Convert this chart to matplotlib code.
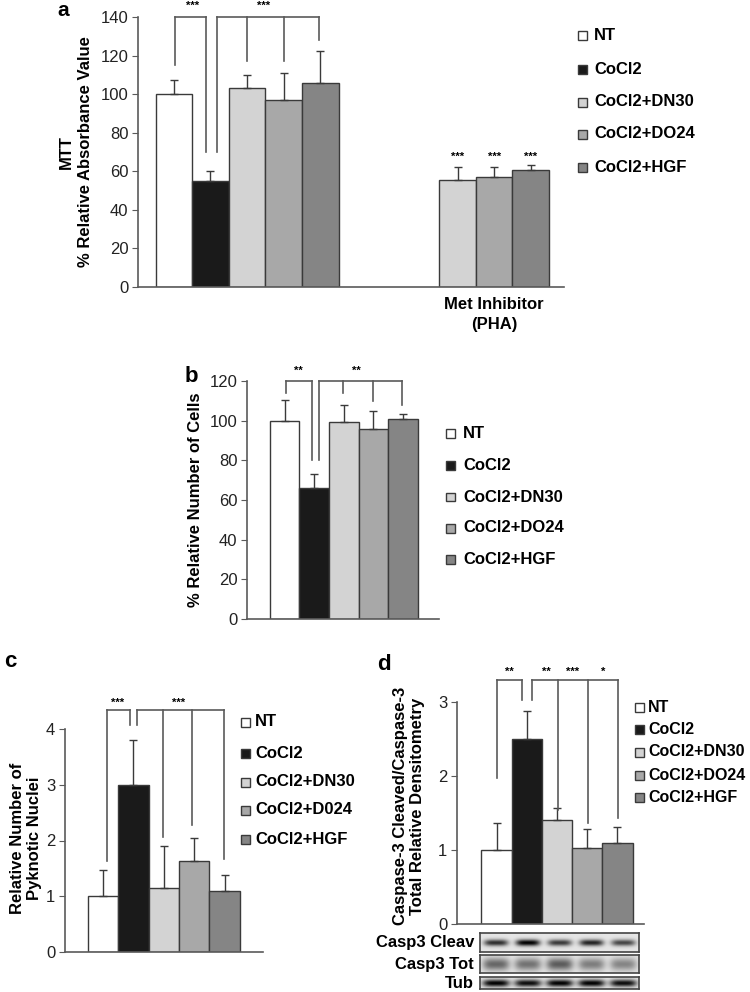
import numpy as np
import matplotlib
matplotlib.use('Agg')
import matplotlib.pyplot as plt
from matplotlib.patches import Rectangle

plt.rcParams['font.family'] = ['Liberation Sans', 'DejaVu Sans']
plt.rcParams['font.weight'] = 'bold'

W, H = 750, 992

# groups / colours
groups = ['NT', 'CoCl2', 'CoCl2+DN30', 'CoCl2+DO24', 'CoCl2+HGF']
groups_c = ['NT', 'CoCl2', 'CoCl2+DN30', 'CoCl2+D024', 'CoCl2+HGF']
colors = ['#ffffff', '#1a1a1a', '#d3d3d3', '#a8a8a8', '#858585']

# panel a - MTT
a_vals = [100, 55, 103, 97, 106]
a_err = [7.5, 5, 7, 14, 16.5]
a_pha_vals = [55.5, 57, 60.7]
a_pha_err = [6.8, 5, 2.4]

# panel b - number of cells
b_vals = [100, 66, 99.5, 96, 101]
b_err = [10.5, 7, 8.5, 9, 2.2]

# panel c - pyknotic nuclei
c_vals = [1.0, 3.0, 1.15, 1.64, 1.1]
c_err = [0.47, 0.8, 0.75, 0.41, 0.29]

# panel d - caspase-3 densitometry
d_vals = [1.0, 2.5, 1.4, 1.03, 1.1]
d_err = [0.36, 0.38, 0.17, 0.25, 0.21]

# blot band strength per lane (0..1)
blot_cleav = [0.8, 1.0, 0.75, 0.85, 0.7]
blot_tot = [0.55, 0.5, 0.6, 0.45, 0.42]
blot_tub = [1.0, 0.95, 1.0, 1.0, 0.95]

GRAY = '#5a5a5a'
EDGE = '#3a3a3a'

fig = plt.figure(figsize=(W / 100, H / 100), dpi=100)


def px_axes(x0, y0, x1, y1):
    return fig.add_axes([x0 / W, 1 - y1 / H, (x1 - x0) / W, (y1 - y0) / H])


def style(ax, ymax, step):
    for s in ['top', 'right']:
        ax.spines[s].set_visible(False)
    for s in ['left', 'bottom']:
        ax.spines[s].set_color(GRAY)
        ax.spines[s].set_linewidth(1.2)
    ax.set_ylim(0, ymax)
    ax.set_yticks(np.arange(0, ymax + step / 2, step))
    ax.tick_params(axis='y', direction='out', length=4, color=GRAY,
                   labelsize=12, labelcolor='#222222', pad=3)
    ax.set_xticks([])
    for t in ax.get_yticklabels():
        t.set_fontweight('normal')


def bars(ax, xs, vals, errs, cols, capsize=3):
    ax.bar(xs, vals, width=1.0, color=cols, edgecolor=EDGE, linewidth=1.0, zorder=2)
    ax.errorbar(xs, vals, yerr=[[0] * len(errs), errs], fmt='none',
                ecolor=EDGE, elinewidth=1.0, capsize=capsize, capthick=1.0, zorder=3)


def bracket(ax, top, ticks):
    xs = [t[0] for t in ticks]
    ax.plot([min(xs), max(xs)], [top, top], color=GRAY, lw=1.2, clip_on=False, zorder=4)
    for x, low in ticks:
        ax.plot([x, x], [low, top], color=GRAY, lw=1.2, clip_on=False, zorder=4)


def stars(ax, items, y):
    for x, s in items:
        ax.text(x, y, s, ha='center', va='center', fontsize=8, clip_on=False)


def legend(xsq, xtxt, ys, labels, size=12, sq=9):
    for y, lab, c in zip(ys, labels, colors):
        fig.add_artist(Rectangle(((xsq - sq / 2) / W, 1 - (y + sq / 2) / H), sq / W, sq / H,
                                 transform=fig.transFigure, facecolor=c, edgecolor=EDGE, lw=1.0))
        fig.text(xtxt / W, 1 - y / H, lab, ha='left', va='center', fontsize=size, fontweight='bold')


def ftext(x, y, s, **kw):
    fig.text(x / W, 1 - y / H, s, **kw)


# ---------- panel a ----------
ax = px_axes(138, 17, 564, 287)
bars(ax, [0, 1, 2, 3, 4], a_vals, a_err, colors)
bars(ax, [7.75, 8.75, 9.75], a_pha_vals, a_pha_err, colors[2:])
ax.set_xlim(-0.98, 10.66)
style(ax, 140, 20)
bracket(ax, 140, [(0.03, 115), (0.87, 70)])
bracket(ax, 140, [(1.17, 70), (2.0, 117), (3.0, 117), (3.96, 128)])
stars(ax, [(0.52, '***'), (2.46, '***')], 146)
stars(ax, [(7.75, '***'), (8.75, '***'), (9.75, '***')], 67.5)
ftext(63, 16, 'a', fontsize=15, fontweight='bold', ha='center', va='baseline')
ftext(66, 152, 'MTT', rotation=90, fontsize=12, fontweight='bold', ha='center', va='center')
ftext(86, 152, '% Relative Absorbance Value', rotation=90, fontsize=12,
      fontweight='bold', ha='center', va='center')
ftext(494, 305, 'Met Inhibitor', fontsize=12, fontweight='bold', ha='center', va='center')
ftext(494, 325, '(PHA)', fontsize=12, fontweight='bold', ha='center', va='center')
legend(582, 594, [35, 69, 102, 134, 167], groups)

# ---------- panel b ----------
ax = px_axes(247, 381, 439, 619)
bars(ax, [0, 1, 2, 3, 4], b_vals, b_err, colors)
ax.set_xlim(-1.27, 5.22)
style(ax, 120, 20)
bracket(ax, 120, [(0.05, 114), (0.93, 80)])
bracket(ax, 120, [(1.17, 80), (1.98, 114), (2.99, 110), (3.97, 108)])
stars(ax, [(0.46, '**'), (2.42, '**')], 125)
ftext(191, 382, 'b', fontsize=16, fontweight='bold', ha='center', va='baseline')
ftext(196, 500, '% Relative Number of Cells', rotation=90, fontsize=12,
      fontweight='bold', ha='center', va='center')
legend(450, 463, [433, 465, 497, 528, 559], groups)

# ---------- panel c ----------
ax = px_axes(65, 729, 263, 952)
bars(ax, [0, 1, 2, 3, 4], c_vals, c_err, colors)
ax.set_xlim(-1.25, 5.26)
style(ax, 4, 1)
bracket(ax, 4.34, [(0.13, 1.63), (0.89, 4.07)])
bracket(ax, 4.34, [(1.12, 4.07), (1.97, 2.07), (2.93, 2.28), (3.98, 1.66)])
stars(ax, [(0.49, '***'), (2.47, '***')], 4.47)
ftext(10, 667, 'c', fontsize=16, fontweight='bold', ha='center', va='baseline')
ftext(26, 838, 'Relative Number of\nPyknotic Nuclei', rotation=90, fontsize=12,
      fontweight='bold', ha='center', va='center', linespacing=1.1)
legend(245, 255, [722, 753, 782, 810, 839], groups_c)

# ---------- panel d ----------
ax = px_axes(457, 702, 644, 924)
bars(ax, [0, 1, 2, 3, 4], d_vals, d_err, colors)
ax.set_xlim(-1.31, 4.88)
style(ax, 3, 1)
bracket(ax, 3.3, [(0.0, 1.97), (0.84, 3.03)])
bracket(ax, 3.3, [(1.18, 3.03), (2.04, 1.54), (3.03, 1.36), (4.02, 1.43)])
stars(ax, [(0.41, '**'), (1.64, '**'), (2.53, '***'), (3.53, '*')], 3.41)
ftext(384, 670, 'd', fontsize=16, fontweight='bold', ha='center', va='baseline')
ftext(409, 806, 'Caspase-3 Cleaved/Caspase-3\nTotal Relative Densitometry', rotation=90,
      fontsize=12, fontweight='bold', ha='center', va='center', linespacing=1.1)
legend(639, 648, [707, 729, 752, 775, 797], groups, size=11.5)


# western blot strips
def blot(y0, y1, lanes, band_h, spread, label):
    bx = px_axes(480, y0, 639, y1)
    h, w = 40, 320
    yy, xx = np.mgrid[0:h, 0:w]
    img = np.full((h, w), 0.9)
    lane_w = w / len(lanes)
    for i, s in enumerate(lanes):
        cx = (i + 0.5) * lane_w
        prof_x = np.exp(-((xx - cx) / (lane_w * spread)) ** 4)
        prof_y = np.exp(-((yy - h / 2) / (h * band_h)) ** 2)
        img -= 0.9 * s * prof_x * prof_y
    bx.imshow(np.clip(img, 0, 1), cmap='gray', vmin=0, vmax=1, aspect='auto')
    bx.set_xticks([])
    bx.set_yticks([])
    for s in bx.spines.values():
        s.set_color('#444444')
        s.set_linewidth(1.2)
    ftext(474, (y0 + y1) / 2, label, fontsize=12, fontweight='bold', ha='right', va='center')


blot(933, 952, blot_cleav, 0.17, 0.38, 'Casp3 Cleav')
blot(955, 973, blot_tot, 0.35, 0.42, 'Casp3 Tot')
blot(977, 989, blot_tub, 0.3, 0.42, 'Tub')

fig.savefig('out.png', dpi=100)
